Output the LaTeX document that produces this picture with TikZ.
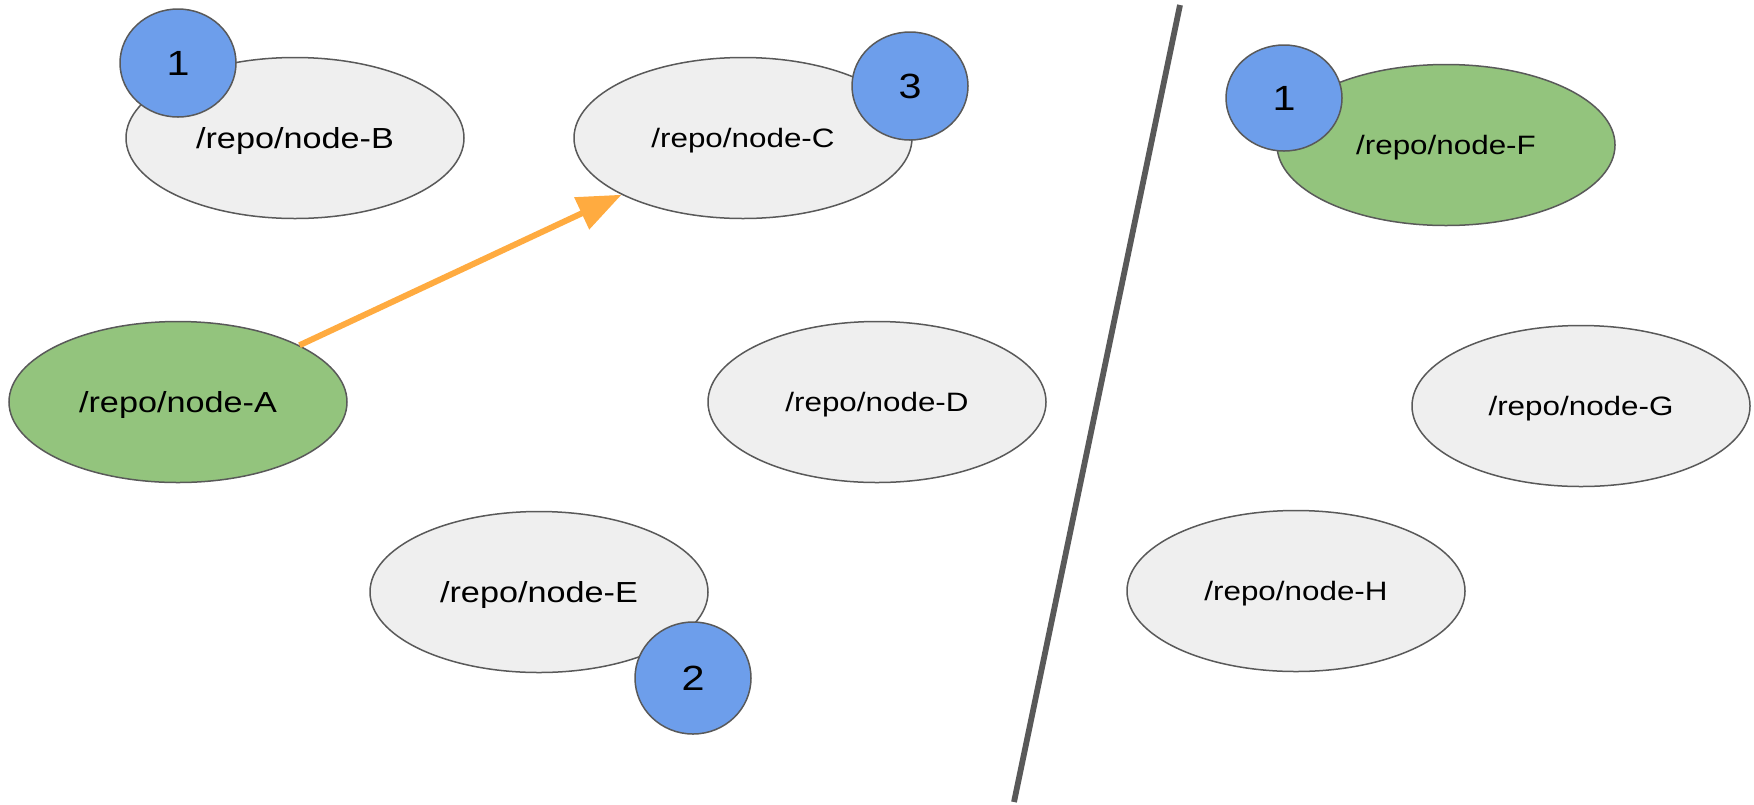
\documentclass[tikz,border=0pt]{standalone}
\usepackage{fontspec}
\setmainfont{Liberation Sans}[FakeStretch=1.18]
\usetikzlibrary{shapes.geometric,arrows.meta}

\definecolor{nodegray}{HTML}{EFEFEF}
\definecolor{nodegreen}{HTML}{93C47D}
\definecolor{badgeblue}{HTML}{6D9EEB}
\definecolor{edge}{HTML}{595959}
\definecolor{linkorange}{HTML}{FFAB40}

\begin{document}
\begin{tikzpicture}[x=0.5pt,y=-0.5pt,
  repo/.style={ellipse, draw=edge, line width=0.75pt, fill=nodegray,
    minimum width=169pt, minimum height=80.5pt, inner sep=0pt,
    font=\fontsize{13.3pt}{16pt}\selectfont, text height=9.5pt, text depth=0pt},
  bigtext/.style={font=\fontsize{14.5pt}{17pt}\selectfont, text height=10.4pt},
  active/.style={fill=nodegreen},
  badge/.style={ellipse, draw=edge, line width=0.75pt, fill=badgeblue,
    inner sep=0pt, minimum width=58pt, minimum height=54pt,
    font=\fontsize{17.5pt}{20pt}\selectfont, text height=12.5pt, text depth=0pt},
  divider/.style={draw=edge, line width=2.9pt},
  link/.style={draw=linkorange, line width=3pt,
    -{Triangle[length=22pt,width=17pt]}, color=linkorange}
]
\useasboundingbox (0,0) rectangle (1754,804);

% repository nodes, left side
\node[repo, active, bigtext] (A) at (178,402) {/repo/node-A};
\node[repo, bigtext] (B) at (295,138) {/repo/node-B};
\node[repo] (C) at (743,138) {/repo/node-C};
\node[repo] (D) at (877,402) {/repo/node-D};
\node[repo, bigtext] (E) at (539,592) {/repo/node-E};

% repository nodes, right side
\node[repo, active] (F) at (1446,145) {/repo/node-F};
\node[repo] (G) at (1581,406) {/repo/node-G};
\node[repo] (H) at (1296,591) {/repo/node-H};

% numbered badges
\node[badge] (nB) at (178,63) {1};
\node[badge] (nC) at (910,86) {3};
\node[badge, minimum height=56pt] (nE) at (693,678) {2};
\node[badge, minimum height=53pt] (nF) at (1284,98) {1};

% link from A to C
\draw[link] (A) -- (C);

% separator between the two groups
\coordinate (sepTop) at (1180,5);
\coordinate (sepBot) at (1014,802);
\draw[divider] (sepTop) -- (sepBot);
\end{tikzpicture}
\end{document}
